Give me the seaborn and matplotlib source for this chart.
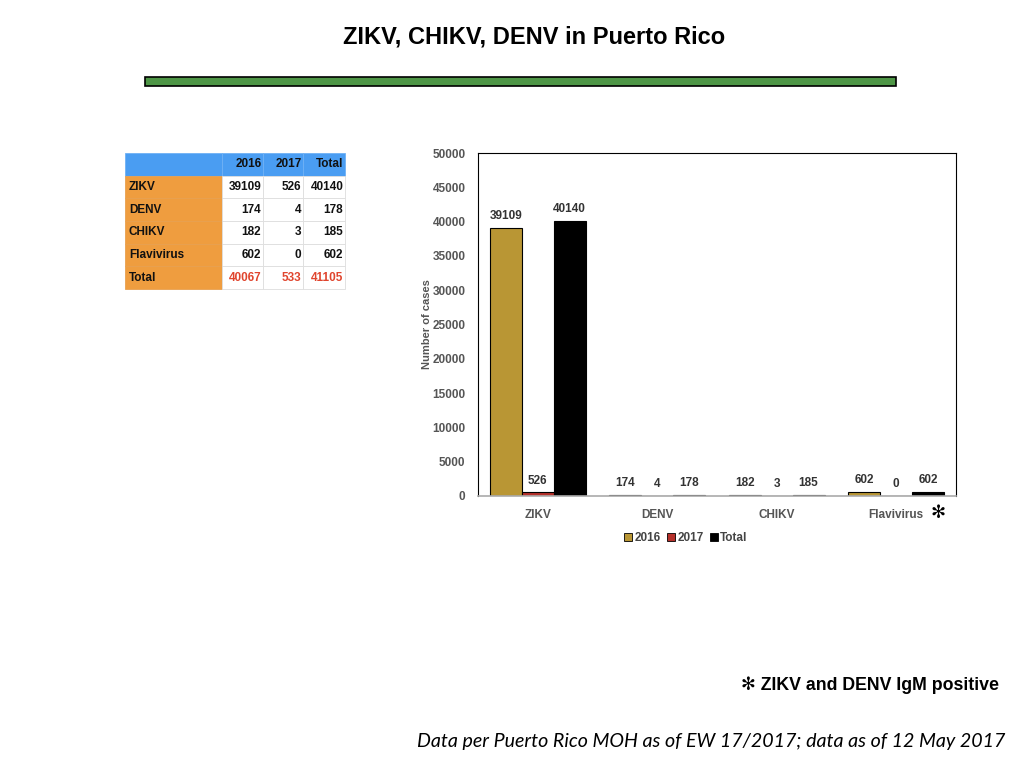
import matplotlib
matplotlib.use("Agg")
import matplotlib.pyplot as plt
import matplotlib.patches as mpatches
import seaborn as sns
import pandas as pd

categories = ["ZIKV", "DENV", "CHIKV", "Flavivirus"]
cases_2016 = [39109, 174, 182, 602]
cases_2017 = [526, 4, 3, 0]
cases_total = [40140, 178, 185, 602]
series = ["2016", "2017", "Total"]
table_rows = ["ZIKV", "DENV", "CHIKV", "Flavivirus", "Total"]
table_2016 = [39109, 174, 182, 602, 40067]
table_2017 = [526, 4, 3, 0, 533]
table_total = [40140, 178, 185, 602, 41105]
y_ticks = list(range(0, 50001, 5000))

sns.set_theme(style="white")
plt.rcParams["font.family"] = ["Liberation Sans", "DejaVu Sans"]

colors = {"2016": "#B99634", "2017": "#B5302A", "Total": "#000000"}
text_gray = "#555555"

df = pd.DataFrame({
    "category": categories * 3,
    "series": sum([[s] * len(categories) for s in series], []),
    "cases": cases_2016 + cases_2017 + cases_total,
})

fig = plt.figure(figsize=(10.24, 7.68), dpi=100)
fig.patch.set_facecolor("white")

# Title and green rule
fig.text(0.522, 0.952, "ZIKV, CHIKV, DENV in Puerto Rico", ha="center", va="center",
         fontsize=17, fontweight="bold", color="black")
fig.patches.append(mpatches.Rectangle((145 / 1024, 1 - 86 / 768), 751 / 1024, 9 / 768,
                                      transform=fig.transFigure, facecolor="#4E9646",
                                      edgecolor="black", linewidth=1.2))

# Bar chart
ax = fig.add_axes([478 / 1024, 1 - 496 / 768, 478 / 1024, 343 / 768])
sns.barplot(data=df, x="category", y="cases", hue="series", palette=colors,
            saturation=1, edgecolor="black", linewidth=0.8, width=0.8, ax=ax, legend=False)
ax.set_xlim(-0.5, 3.5)
ax.set_ylim(0, 50000)
ax.set_yticks(y_ticks)
ax.set_yticklabels([str(t) for t in y_ticks], fontsize=8.5, fontweight="bold", color=text_gray)
ax.set_xticks(range(len(categories)))
ax.set_xticklabels(categories, fontsize=8.5, fontweight="bold", color=text_gray)
ax.tick_params(axis="y", length=0, pad=9)
ax.tick_params(axis="x", length=0, pad=9)
ax.set_xlabel("")
ax.set_ylabel("Number of cases", fontsize=8, fontweight="bold", color=text_gray, labelpad=0)
for s in ["left", "top", "right"]:
    ax.spines[s].set_color("black")
    ax.spines[s].set_linewidth(0.8)
ax.spines["bottom"].set_color("#AAAAAA")
ax.spines["bottom"].set_linewidth(1.2)

for cont in ax.containers:
    ax.bar_label(cont, labels=[f"{int(v)}" for v in cont.datavalues], padding=4,
                 fontsize=8.5, fontweight="bold", color="#333333")

# asterisk after Flavivirus
ax.annotate("✻", xy=(3, 0), xycoords=("data", "axes fraction"), xytext=(30, -12),
            textcoords="offset points", ha="center", va="center", fontsize=13,
            fontweight="bold", color="black", family=["DejaVu Sans"])

handles = [mpatches.Patch(facecolor=colors[s], edgecolor="black", linewidth=0.6, label=s)
           for s in series]
leg = ax.legend(handles=handles, loc="upper center", bbox_to_anchor=(0.435, -0.075), ncol=3,
                frameon=False, handlelength=0.7, handleheight=0.7,
                handletextpad=0.2, columnspacing=0.5, prop={"weight": "bold", "size": 8.5})
for t in leg.get_texts():
    t.set_color("#444444")

# Table
tax = fig.add_axes([125 / 1024, 1 - 289 / 768, 220 / 1024, 136 / 768])
tax.axis("off")
cell_text = [["", "2016", "2017", "Total"]]
for r, a, b, c in zip(table_rows, table_2016, table_2017, table_total):
    cell_text.append([r, str(a), str(b), str(c)])
tbl = tax.table(cellText=cell_text, bbox=[0, 0, 1, 1], colWidths=[97, 41, 40, 42],
                cellLoc="right")
tbl.auto_set_font_size(False)
for (i, j), cell in tbl.get_celld().items():
    txt = cell.get_text()
    txt.set_fontsize(8.5)
    txt.set_fontweight("bold")
    cell.set_linewidth(0.6)
    if i == 0:
        cell.set_facecolor("#4A9DF2")
        cell.set_edgecolor("#6FB1F5")
        txt.set_color("#111111")
    elif j == 0:
        cell.set_facecolor("#EF9D3F")
        cell.set_edgecolor("#E8A050")
        cell._loc = "left"
        txt.set_ha("left")
        txt.set_color("#111111")
    else:
        cell.set_facecolor("white")
        cell.set_edgecolor("#DDDDDD")
        txt.set_color("#E0452E" if i == len(cell_text) - 1 else "#111111")
    cell.PAD = 0.04

# Footnotes
fig.text(0.976, 1 - 685 / 768, "✻ ZIKV and DENV IgM positive", ha="right", va="center",
         fontsize=12.8, fontweight="bold", color="black", family=["Liberation Sans", "DejaVu Sans"])
fig.text(0.982, 1 - 741 / 768, "Data per Puerto Rico MOH as of EW 17/2017; data as of 12 May 2017",
         ha="right", va="center", fontsize=14.1, style="italic", color="black",
         family=["Lato", "DejaVu Sans"])

fig.savefig("out.png", dpi=100, facecolor="white")
